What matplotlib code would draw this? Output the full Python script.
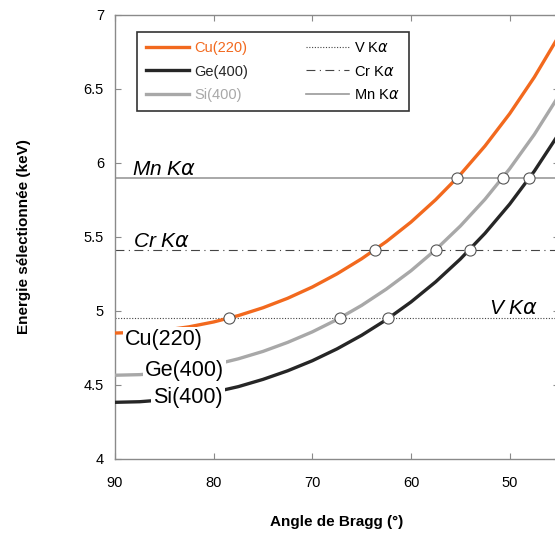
import numpy as np
import matplotlib.pyplot as plt
from matplotlib.ticker import FormatStrFormatter

plt.rcParams['font.family'] = ['Liberation Sans', 'DejaVu Sans']
plt.rcParams['mathtext.fontset'] = 'dejavusans'

# Bragg angle (deg) and selected energy (keV)
angle = [90, 87.5, 85, 82.5, 80, 77.5, 75, 72.5, 70, 67.5, 65, 62.5,
         60, 57.5, 55, 52.5, 50, 47.5, 45]
e_cu220 = [4.851, 4.856, 4.870, 4.893, 4.926, 4.969, 5.022, 5.086, 5.162,
           5.251, 5.353, 5.469, 5.601, 5.752, 5.922, 6.115, 6.333, 6.580, 6.860]
e_ge400 = [4.383, 4.387, 4.400, 4.421, 4.451, 4.489, 4.538, 4.596, 4.664,
           4.744, 4.836, 4.941, 5.061, 5.197, 5.351, 5.525, 5.722, 5.945, 6.199]
e_si400 = [4.566, 4.570, 4.583, 4.605, 4.636, 4.677, 4.727, 4.788, 4.859,
           4.942, 5.038, 5.148, 5.272, 5.414, 5.574, 5.755, 5.961, 6.193, 6.457]

# emission lines (keV)
e_v, e_cr, e_mn = 4.952, 5.415, 5.899
line_energy = [e_v, e_cr, e_mn]

# crossing points (angle) of each crystal with V, Cr, Mn K-alpha
cross_cu = [78.4, 63.6, 55.3]
cross_ge = [62.3, 54.0, 48.0]
cross_si = [67.2, 57.5, 50.7]

orange = '#f2691e'
black = '#262626'
grey = '#a8a8a8'
spine = '#8a8a8a'

fig = plt.figure(figsize=(5.55, 5.36), dpi=100)
ax = fig.add_axes([115/555, 1 - 459/536, 444/555, 444/536])

l_v, = ax.plot([90, 45], [e_v, e_v], ls=(0, (1, 1.5)), color='#444444', lw=0.8)
l_cr, = ax.plot([90, 45], [e_cr, e_cr], ls=(0, (8, 4, 1, 4)), color='#444444', lw=0.8)
l_mn, = ax.plot([90, 45], [e_mn, e_mn], ls='-', color='#999999', lw=1.2)

l_cu, = ax.plot(angle, e_cu220, color=orange, lw=2.4, zorder=3)
l_ge, = ax.plot(angle, e_ge400, color=black, lw=2.4, zorder=3)
l_si, = ax.plot(angle, e_si400, color=grey, lw=2.4, zorder=3)

mk = dict(ls='none', marker='o', ms=8, mfc='white', mec='#555555', mew=0.8, zorder=4)
ax.plot(cross_cu, line_energy, **mk)
ax.plot(cross_ge, line_energy, **mk)
ax.plot(cross_si, line_energy, **mk)

# curve labels (white box hides the curve behind them)
box = dict(boxstyle='square,pad=0.1', fc='white', ec='none')
ax.text(89.0, 4.770, 'Cu(220)', fontsize=15.5, va='baseline', bbox=box, zorder=5)
ax.text(86.96, 4.561, 'Ge(400)', fontsize=15.5, va='baseline', bbox=box, zorder=5)
ax.text(86.15, 4.378, 'Si(400)', fontsize=15.5, va='baseline', bbox=box, zorder=5)

ax.text(88.3, 5.919, r'Mn K$\alpha$', fontsize=15, style='italic', va='baseline')
ax.text(88.2, 5.435, r'Cr K$\alpha$', fontsize=15, style='italic', va='baseline')
ax.text(52.1, 4.980, r'V K$\alpha$', fontsize=15, style='italic', va='baseline')

ax.set_xlim(90, 45)
ax.set_ylim(4, 7)
ax.set_xticks([90, 80, 70, 60, 50])
ax.set_yticks(np.arange(4, 7.01, 0.5))
ax.yaxis.set_major_formatter(FormatStrFormatter('%g'))
ax.tick_params(direction='in', length=4.5, width=0.8, color=spine, labelsize=10.5,
               top=True, right=True)
ax.tick_params(axis='x', pad=12.5)
ax.tick_params(axis='y', pad=8)
for s in ax.spines.values():
    s.set_color(spine)
    s.set_linewidth(1.0)

ax.set_xlabel('Angle de Bragg (°)', fontsize=11, fontweight='bold', labelpad=18)
ax.set_ylabel('Energie sélectionnée (keV)', fontsize=11, fontweight='bold', labelpad=38)

leg = ax.legend([l_cu, l_ge, l_si, l_v, l_cr, l_mn],
                ['Cu(220)', 'Ge(400)', 'Si(400)', r'V K$\alpha$', r'Cr K$\alpha$', r'Mn K$\alpha$'],
                ncol=2, loc='upper left', bbox_to_anchor=(0.05, 0.962),
                fontsize=10.5, frameon=True, fancybox=False, borderaxespad=0,
                handlelength=2.95, handletextpad=0.35, columnspacing=4.0,
                labelspacing=0.68, borderpad=0.6)
leg.get_frame().set_edgecolor('black')
leg.get_frame().set_linewidth(1.2)
for txt, c in zip(leg.get_texts(), [orange, black, grey, 'black', 'black', 'black']):
    txt.set_color(c)

fig.savefig('out.png', dpi=100)
